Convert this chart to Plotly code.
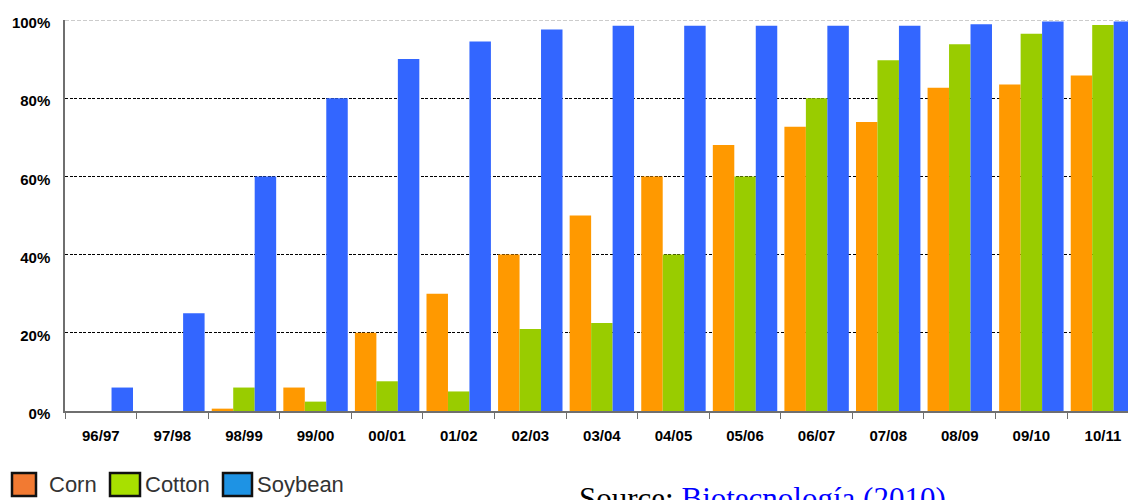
import plotly.graph_objects as go

# Marketing years and adoption shares (% of planted area) per crop
seasons = ["96/97", "97/98", "98/99", "99/00", "00/01", "01/02", "02/03", "03/04",
           "04/05", "05/06", "06/07", "07/08", "08/09", "09/10", "10/11"]
corn = [0, 0, 0.6, 6, 20, 30, 40, 50, 60, 68, 72.7, 73.9, 82.7, 83.5, 85.8]
cotton = [0, 0, 6, 2.4, 7.6, 5, 21, 22.5, 40, 60, 80, 89.7, 93.8, 96.5, 98.7]
soybean = [6, 25, 60, 80, 90, 94.5, 97.6, 98.5, 98.5, 98.5, 98.5, 98.5, 98.9, 99.6, 99.6]

y_ticks = [0, 20, 40, 60, 80, 100]
y_tick_text = ["0%", "20%", "40%", "60%", "80%", "100%"]

bar_colors = {"Corn": "#FF9900", "Cotton": "#99CC00", "Soybean": "#3366FF"}
key_colors = {"Corn": "#F27A32", "Cotton": "#A8E000", "Soybean": "#1E93E4"}

W, H = 1128, 500
ML, MR, MT, MB = 65, 0, 20, 89
PW, PH = W - ML - MR, H - MT - MB


def px_x(p):
    return (p - ML) / PW


def px_y(p):
    return (H - MB - p) / PH


fig = go.Figure()
for name, vals in (("Corn", corn), ("Cotton", cotton), ("Soybean", soybean)):
    fig.add_trace(go.Bar(x=seasons, y=vals, name=name,
                         marker=dict(color=bar_colors[name], line=dict(width=0))))

tick_font = dict(family="Liberation Sans, Arial, sans-serif", size=15,
                 color="#000000", weight="bold")

fig.update_layout(
    width=W, height=H,
    margin=dict(l=ML, r=MR, t=MT, b=MB),
    paper_bgcolor="white", plot_bgcolor="white",
    barmode="group", bargap=0.1, bargroupgap=0,
    showlegend=False,
    xaxis=dict(
        type="category", range=[-0.5, 14.35],
        showline=True, linecolor="#6f6f6f", linewidth=1.5,
        ticks="outside", tickson="boundaries", ticklen=6, tickcolor="#6f6f6f",
        tickwidth=1, showgrid=False, tickfont=tick_font, ticklabelstandoff=10,
    ),
    yaxis=dict(
        range=[0, 100], tickvals=y_ticks, ticktext=y_tick_text,
        showline=True, linecolor="#6f6f6f", linewidth=1.5,
        showgrid=True, gridcolor="#000000", gridwidth=1.4, griddash="3px,1.5px",
        zeroline=False, ticks="", tickfont=tick_font, ticklabelstandoff=10,
        ticklabelshift=3,
    ),
)

# lighter dashed rule at the 100% level
fig.add_shape(type="line", xref="paper", yref="y", x0=0, x1=1, y0=100, y1=100,
              line=dict(color="white", width=2.5), layer="between")
fig.add_shape(type="line", xref="paper", yref="y", x0=0, x1=1, y0=100, y1=100,
              line=dict(color="#9a9a9a", width=1, dash="4px,2px"), layer="between")

# hand-drawn key below the axis
key_items = [("Corn", 12, 36, 47), ("Cotton", 110, 140, 143), ("Soybean", 223, 252, 255)]
for name, x0, x1, tx in key_items:
    fig.add_shape(type="rect", xref="paper", yref="paper",
                  x0=px_x(x0), x1=px_x(x1), y0=px_y(496), y1=px_y(473),
                  fillcolor=key_colors[name], line=dict(color="#111111", width=2.5))
    fig.add_annotation(x=px_x(tx), y=px_y(485), xref="paper", yref="paper",
                       text=name, showarrow=False, xanchor="left", yanchor="middle",
                       font=dict(family="Liberation Sans, Arial, sans-serif",
                                 size=22, color="#333333"))

fig.add_annotation(
    x=px_x(577), y=px_y(498), xref="paper", yref="paper",
    text='Source: <span style="color:#0000FF"><u>Biotecnología (2010)</u></span>',
    showarrow=False, xanchor="left", yanchor="middle",
    font=dict(family="Liberation Serif, Times New Roman, serif", size=31, color="#000000"),
)

fig.write_html("out.html")
